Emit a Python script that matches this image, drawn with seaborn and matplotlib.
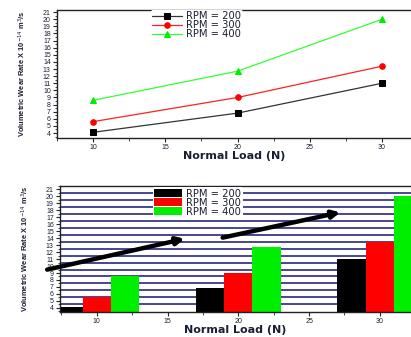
import numpy as np
import pandas as pd
import seaborn as sns
import matplotlib.pyplot as plt
from matplotlib.ticker import MultipleLocator

# data
loads = [10, 20, 30]
rpm_labels = ["RPM = 200", "RPM = 300", "RPM = 400"]
rate_200 = [4.1, 6.8, 11.0]
rate_300 = [5.6, 9.0, 13.4]
rate_400 = [8.6, 12.7, 20.0]
colors = ["#000000", "#ff0000", "#00ee00"]
line_colors = ["#333333", "#ff2020", "#30ff30"]

df = pd.DataFrame({
    "load": loads * 3,
    "rate": rate_200 + rate_300 + rate_400,
    "rpm": [rpm_labels[0]] * 3 + [rpm_labels[1]] * 3 + [rpm_labels[2]] * 3,
})

sns.set_style("ticks")
plt.rcParams['font.family'] = ['Liberation Sans', 'DejaVu Sans']
txt = "#1a1f33"
ylab = "Volumetric Wear Rate X 10$^{-14}$ m$^3$/s"

fig = plt.figure(figsize=(4.11, 3.37), dpi=100)
ax1 = fig.add_axes([57/411, 1-138/337, 354/411, 128/337])
ax2 = fig.add_axes([60/411, 1-312/337, 351/411, 126/337])

# top: line chart
sns.lineplot(data=df, x="load", y="rate", hue="rpm", style="rpm",
             markers=["s", "o", "^"], dashes=False, palette=line_colors,
             markersize=4, linewidth=0.9, ax=ax1)
for ln, c in zip(ax1.lines, colors):
    ln.set_markerfacecolor(c)
    ln.set_markeredgecolor(c)
h, l = ax1.get_legend_handles_labels()
for hh, c in zip(h, colors):
    hh.set_markerfacecolor(c)
    hh.set_markeredgecolor(c)
ax1.legend(h, l, loc="upper left", bbox_to_anchor=(0.25, 1.04), frameon=True,
           facecolor="white", edgecolor="none", framealpha=1,
           prop={'family': 'DejaVu Sans', 'size': 7.2}, labelcolor=txt,
           handlelength=3.0, labelspacing=-0.1, borderpad=0.15, handletextpad=0.4)
ax1.set_xlim(7.5, 32)
ax1.set_ylim(3.3, 21.3)

# bottom: grouped bars
sns.barplot(data=df, x="load", y="rate", hue="rpm", native_scale=True,
            width=0.6, palette=colors, saturation=1, errorbar=None,
            linewidth=0, ax=ax2)
ax2.set_xlim(7.4, 32.2)
ax2.set_ylim(3.4, 21.5)
for yy in np.arange(4.5, 21, 1):
    ax2.axhline(yy, color="#141478", lw=1.1, zorder=0)
ax2.set_axisbelow(True)
ax2.legend(loc="upper left", bbox_to_anchor=(0.25, 1.03), frameon=True,
           facecolor="white", edgecolor="none", framealpha=1,
           prop={'family': 'DejaVu Sans', 'size': 7.2}, labelcolor=txt,
           handlelength=2.8, handleheight=0.9, labelspacing=-0.1,
           borderpad=0.15, handletextpad=0.4)

# arrows
ax2.annotate("", xy=(16.4, 14.0), xytext=(6.3, 9.4), annotation_clip=False,
             arrowprops=dict(arrowstyle="-|>", lw=3.2, color="black", mutation_scale=11))
ax2.annotate("", xy=(27.4, 17.8), xytext=(18.7, 14.0), annotation_clip=False,
             arrowprops=dict(arrowstyle="-|>", lw=3.2, color="black", mutation_scale=11))

for ax in (ax1, ax2):
    ax.spines["right"].set_visible(False)
    ax.spines["top"].set_visible(True)
    for s in ("left", "bottom", "top"):
        ax.spines[s].set_linewidth(1.0)
        ax.spines[s].set_color("#222222")
    ax.xaxis.set_major_locator(MultipleLocator(5))
    ax.xaxis.set_minor_locator(MultipleLocator(2.5))
    ax.yaxis.set_major_locator(MultipleLocator(1))
    ax.yaxis.set_minor_locator(MultipleLocator(0.5))
    ax.tick_params(which="major", direction="out", length=3, width=0.8,
                   labelsize=5, labelcolor=txt, pad=1.5, top=False, right=False)
    ax.tick_params(which="minor", direction="out", length=1.8, width=0.6,
                   top=False, right=False)
    ax.set_xlabel("Normal Load (N)", fontsize=8, fontweight="bold", color=txt,
                  family="DejaVu Sans", labelpad=0)
    ax.set_ylabel(ylab, fontsize=5.4, fontweight="bold", color=txt, labelpad=11)
    ax.set_yticks(range(4, 22))

plt.savefig("out.png", dpi=100)
